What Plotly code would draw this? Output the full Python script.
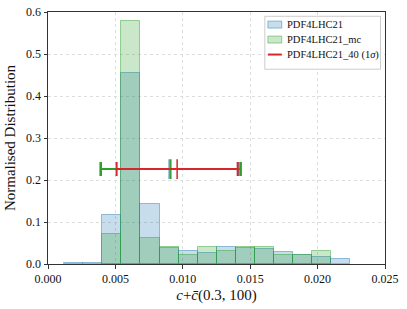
import plotly.graph_objects as go

# ---- data ----
bin_start = 0.00120
bin_width = 0.001415
pdf4lhc21 = [0.002, 0.002, 0.116, 0.455, 0.143, 0.039, 0.031, 0.027, 0.041, 0.039,
             0.035, 0.028, 0.021, 0.017, 0.012]
pdf4lhc21_mc = [None, None, 0.072, 0.578, 0.0625, 0.041, 0.021, 0.041, 0.031, 0.041,
                0.041, 0.021, 0.021, 0.032, None]
legend_names = ["PDF4LHC21", "PDF4LHC21_mc", "PDF4LHC21_40 (1<i>σ</i>)"]
err_center = [0.00899, 0.00911, 0.00958]
err_low = [0.00388, 0.00393, 0.00509]
err_high = [0.01416, 0.01431, 0.01407]
err_level = 0.226
x_ticks = [0.000, 0.005, 0.010, 0.015, 0.020, 0.025]
y_ticks = [0.0, 0.1, 0.2, 0.3, 0.4, 0.5, 0.6]

centers = [bin_start + (i + 0.5) * bin_width for i in range(len(pdf4lhc21))]

FONT = "Liberation Serif"
BLUE_F, BLUE_L = "rgba(31,119,180,0.25)", "rgba(31,119,180,0.45)"
GREEN_F, GREEN_L = "rgba(44,160,44,0.25)", "rgba(44,160,44,0.45)"
RED = "#d62728"

fig = go.Figure()
fig.add_trace(go.Bar(x=centers, y=pdf4lhc21, width=bin_width, name=legend_names[0],
                     showlegend=False,
                     marker=dict(color=BLUE_F, line=dict(color=BLUE_L, width=1))))
fig.add_trace(go.Bar(x=centers, y=pdf4lhc21_mc, width=bin_width, name=legend_names[1],
                     showlegend=False,
                     marker=dict(color=GREEN_F, line=dict(color=GREEN_L, width=1))))

err_colors = ["#5b95c6", "#2ca02c", RED]
for i in range(3):
    fig.add_trace(go.Scatter(
        x=[err_center[i]], y=[err_level], mode="markers", showlegend=False,
        marker=dict(symbol="line-ns", size=14, line=dict(color=err_colors[i], width=1.5)),
        error_x=dict(type="data", symmetric=False,
                     array=[err_high[i] - err_center[i]],
                     arrayminus=[err_center[i] - err_low[i]],
                     color=err_colors[i], thickness=2, width=7)))

# ---- manual legend (matplotlib-like compact layout) ----
L, R, T, B = 47.5, 385.5, 11.7, 264.0
W, H = R - L, B - T
def px(x): return (x - L) / W
def py(y): return (B - y) / H

shapes = [dict(type="rect", xref="paper", yref="paper",
               x0=px(265), x1=px(381), y0=py(69), y1=py(16),
               fillcolor="rgba(255,255,255,0.8)", line=dict(color="#cccccc", width=1),
               layer="above")]
rows = [24.3, 39.3, 54.3]
shapes.append(dict(type="rect", xref="paper", yref="paper", x0=px(268), x1=px(282),
                   y0=py(rows[0] + 3.5), y1=py(rows[0] - 3.5), fillcolor=BLUE_F,
                   line=dict(color=BLUE_L, width=1), layer="above"))
shapes.append(dict(type="rect", xref="paper", yref="paper", x0=px(268), x1=px(282),
                   y0=py(rows[1] + 3.5), y1=py(rows[1] - 3.5), fillcolor=GREEN_F,
                   line=dict(color=GREEN_L, width=1), layer="above"))
shapes.append(dict(type="line", xref="paper", yref="paper", x0=px(268), x1=px(282),
                   y0=py(rows[2]), y1=py(rows[2]), line=dict(color=RED, width=2),
                   layer="above"))
annotations = [dict(xref="paper", yref="paper", x=px(285), y=py(r), text=t,
                    showarrow=False, xanchor="left", yanchor="middle",
                    font=dict(family=FONT, size=10.5, color="#111"))
               for r, t in zip(rows, legend_names)]

axis_common = dict(showline=True, linecolor="#333", linewidth=1, mirror=True,
                   ticks="outside", ticklen=3.5, tickcolor="#333", automargin=False,
                   showgrid=True, gridcolor="#dddddd", griddash="dot", gridwidth=1,
                   zeroline=False, tickfont=dict(family=FONT, size=12, color="#111"))
fig.update_xaxes(range=[0, 0.025], tickvals=x_ticks, tickformat=".3f",
                 title=dict(text="<i>c</i>+<i>c\u0304</i>(0.3, 100)",
                            font=dict(family=FONT, size=15, color="#111"), standoff=4),
                 **axis_common)
fig.update_yaxes(range=[0, 0.6], tickvals=y_ticks, tickformat=".1f",
                 title=dict(text="Normalised Distribution",
                            font=dict(family=FONT, size=15, color="#111"), standoff=6),
                 **axis_common)
fig.update_layout(
    width=407, height=309, barmode="overlay", bargap=0,
    plot_bgcolor="white", paper_bgcolor="white",
    margin=dict(l=L, r=407 - R, t=T, b=309 - B),
    shapes=shapes, annotations=annotations, showlegend=False,
)
fig.write_html("out.html", config={"displayModeBar": False},
               post_script="document.body.style.margin='0';document.body.style.overflow='hidden';")
